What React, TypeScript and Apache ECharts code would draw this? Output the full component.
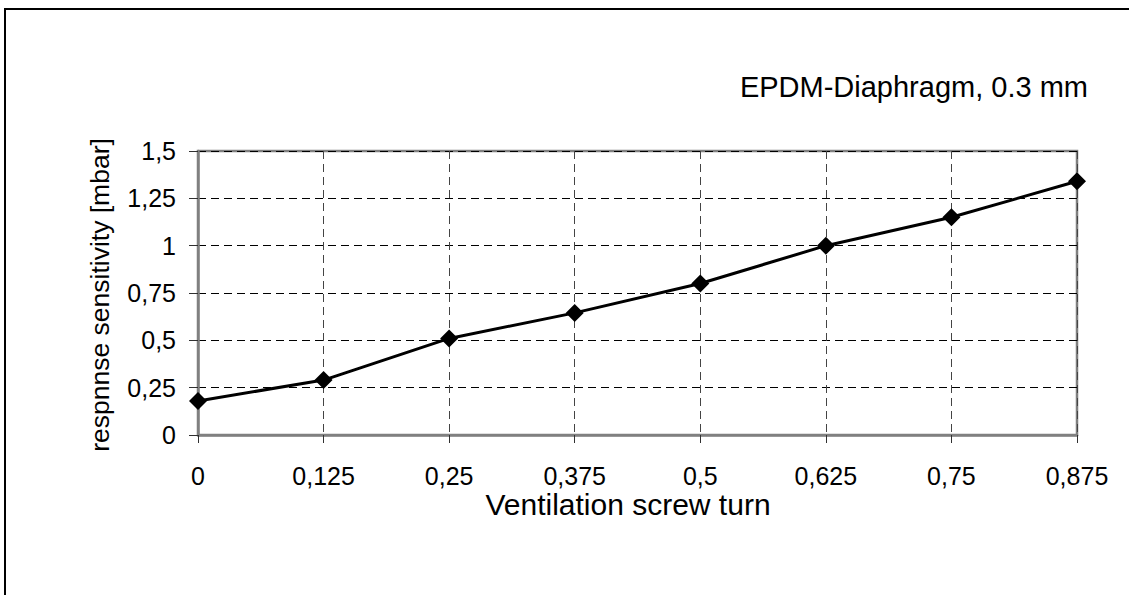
import React, { useEffect, useRef } from "react";
import * as echarts from "echarts";

const screwTurns = ["0", "0,125", "0,25", "0,375", "0,5", "0,625", "0,75", "0,875"];
const sensitivity = [0.18, 0.29, 0.51, 0.645, 0.8, 1.0, 1.15, 1.34];
const chartTitle = "EPDM-Diaphragm, 0.3 mm";
const xAxisTitle = "Ventilation screw turn";
const yAxisTitle = "respnnse sensitivity [mbar]";

const FONT = "'Liberation Sans', Arial, sans-serif";

export default function App() {
  const ref = useRef<HTMLDivElement>(null);

  useEffect(() => {
    if (!ref.current) return;
    const chart = echarts.init(ref.current, null, { renderer: "svg" });
    chart.setOption({
      animation: false,
      backgroundColor: "#ffffff",
      textStyle: { fontFamily: FONT },
      grid: {
        left: 198,
        right: 52,
        top: 151,
        bottom: 160,
        show: true,
        borderColor: "#808080",
        borderWidth: 2.5,
        backgroundColor: "transparent",
      },
      xAxis: {
        type: "category",
        data: screwTurns,
        boundaryGap: false,
        axisLine: { lineStyle: { color: "#808080", width: 2.5 } },
        axisTick: { show: true, inside: false, length: 8, lineStyle: { color: "#303030", width: 1 } },
        axisLabel: { color: "#000", fontSize: 25, fontFamily: FONT, margin: 28 },
        splitLine: { show: true, lineStyle: { color: "#444", width: 1, type: [8, 5] } },
      },
      yAxis: {
        type: "value",
        min: 0,
        max: 1.5,
        interval: 0.25,
        axisLine: { show: true, lineStyle: { color: "#808080", width: 2.5 } },
        axisTick: { show: true, inside: false, length: 9, lineStyle: { color: "#303030", width: 1 } },
        axisLabel: {
          color: "#000",
          fontSize: 25,
          fontFamily: FONT,
          margin: 22,
          formatter: (v: number) => String(v).replace(".", ","),
        },
        splitLine: { show: true, lineStyle: { color: "#000", width: 1, type: [8, 5] } },
      },
      series: [
        {
          type: "line",
          data: sensitivity,
          symbol: "diamond",
          symbolSize: 18,
          itemStyle: { color: "#000" },
          lineStyle: { color: "#000", width: 3 },
        },
      ],
      graphic: [
        {
          type: "polyline",
          shape: { points: [[5, 600], [5, 9], [1135, 9]] },
          style: { stroke: "#000", lineWidth: 2, fill: "none" },
          silent: true,
        },
        {
          type: "text",
          x: 1088,
          y: 87,
          style: {
            text: chartTitle,
            fill: "#000",
            font: `29px ${FONT}`,
            align: "right",
            verticalAlign: "middle",
          },
        },
        {
          type: "text",
          x: 628,
          y: 504,
          style: {
            text: xAxisTitle,
            fill: "#000",
            font: `30px ${FONT}`,
            align: "center",
            verticalAlign: "middle",
          },
        },
        {
          type: "text",
          x: 100,
          y: 295,
          rotation: Math.PI / 2,
          style: {
            text: yAxisTitle,
            fill: "#000",
            font: `26.5px ${FONT}`,
            align: "center",
            verticalAlign: "middle",
          },
        },
      ],
    });
    return () => chart.dispose();
  }, []);

  return (
    <div
      ref={ref}
      style={{ position: "fixed", left: 0, top: 0, width: 1129, height: 595, background: "#fff" }}
    />
  );
}
